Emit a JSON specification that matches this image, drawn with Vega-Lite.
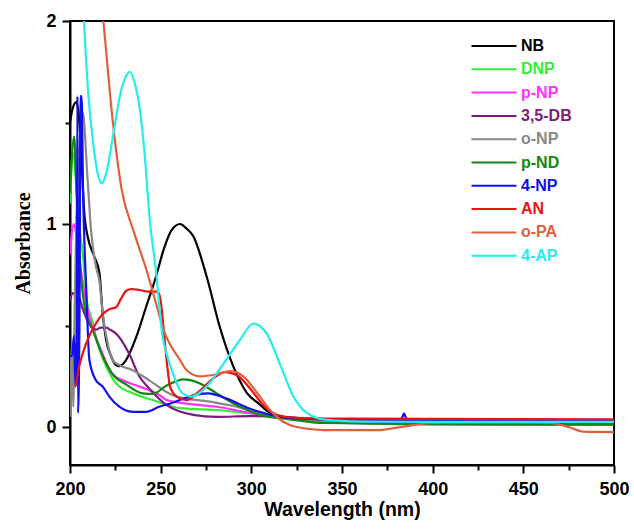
{
  "$schema": "https://vega.github.io/schema/vega-lite/v6.json",
  "width": 544,
  "height": 444,
  "autosize": {"type": "none"},
  "padding": {"left": 70, "top": 21, "right": 20, "bottom": 64},
  "background": "white",
  "config": {
    "view": {"stroke": "black", "strokeWidth": 2},
    "axis": {
      "domainColor": "black", "domainWidth": 2,
      "labelFont": "Liberation Sans", "labelFontWeight": "bold", "labelFontSize": 18, "labelColor": "black",
      "titleColor": "black", "grid": false
    }
  },
  "data": {"values": [
    {"s":"NB","w":200,"a":1.50},{"s":"NB","w":201.5,"a":1.57},{"s":"NB","w":203.5,"a":1.60},{"s":"NB","w":205,"a":1.52},{"s":"NB","w":206,"a":1.38},{"s":"NB","w":207.9,"a":1.05},{"s":"NB","w":209.7,"a":0.94},{"s":"NB","w":213.4,"a":0.84},{"s":"NB","w":216.2,"a":0.76},{"s":"NB","w":218,"a":0.56},{"s":"NB","w":219.9,"a":0.43},{"s":"NB","w":222.6,"a":0.35},{"s":"NB","w":225.4,"a":0.305},{"s":"NB","w":227.2,"a":0.30},{"s":"NB","w":230.9,"a":0.33},{"s":"NB","w":236.4,"a":0.44},{"s":"NB","w":241.9,"a":0.59},{"s":"NB","w":247.4,"a":0.74},{"s":"NB","w":251.5,"a":0.87},{"s":"NB","w":256,"a":0.97},{"s":"NB","w":260.7,"a":1.00},{"s":"NB","w":264,"a":0.98},{"s":"NB","w":268,"a":0.94},{"s":"NB","w":275.4,"a":0.74},{"s":"NB","w":282.7,"a":0.49},{"s":"NB","w":290,"a":0.30},{"s":"NB","w":297.4,"a":0.17},{"s":"NB","w":304.8,"a":0.11},{"s":"NB","w":308.5,"a":0.08},{"s":"NB","w":315,"a":0.055},{"s":"NB","w":325,"a":0.04},{"s":"NB","w":350,"a":0.035},{"s":"NB","w":400,"a":0.033},{"s":"NB","w":450,"a":0.032},{"s":"NB","w":500,"a":0.03},

    {"s":"DNP","w":200,"a":1.10},{"s":"DNP","w":201.5,"a":1.35},{"s":"DNP","w":203,"a":1.25},{"s":"DNP","w":205,"a":1.00},{"s":"DNP","w":207.2,"a":0.84},{"s":"DNP","w":209,"a":0.64},{"s":"DNP","w":212.7,"a":0.51},{"s":"DNP","w":214.3,"a":0.445},{"s":"DNP","w":219.9,"a":0.30},{"s":"DNP","w":225.4,"a":0.215},{"s":"DNP","w":234.6,"a":0.166},{"s":"DNP","w":245.6,"a":0.133},{"s":"DNP","w":256.6,"a":0.10},{"s":"DNP","w":262.5,"a":0.092},{"s":"DNP","w":280.9,"a":0.084},{"s":"DNP","w":299.3,"a":0.067},{"s":"DNP","w":321.3,"a":0.048},{"s":"DNP","w":340,"a":0.03},{"s":"DNP","w":400,"a":0.022},{"s":"DNP","w":500,"a":0.02},

    {"s":"p-NP","w":200,"a":0.85},{"s":"p-NP","w":202,"a":1.00},{"s":"p-NP","w":203.5,"a":0.95},{"s":"p-NP","w":206.2,"a":0.76},{"s":"p-NP","w":209,"a":0.61},{"s":"p-NP","w":212.7,"a":0.48},{"s":"p-NP","w":216.2,"a":0.40},{"s":"p-NP","w":223.5,"a":0.26},{"s":"p-NP","w":229,"a":0.23},{"s":"p-NP","w":238.2,"a":0.20},{"s":"p-NP","w":249.2,"a":0.158},{"s":"p-NP","w":253.3,"a":0.133},{"s":"p-NP","w":271.7,"a":0.108},{"s":"p-NP","w":280.9,"a":0.10},{"s":"p-NP","w":295.6,"a":0.075},{"s":"p-NP","w":317.6,"a":0.048},{"s":"p-NP","w":340,"a":0.03},{"s":"p-NP","w":400,"a":0.025},{"s":"p-NP","w":500,"a":0.022},

    {"s":"3,5-DB","w":200,"a":0.62},{"s":"3,5-DB","w":201.5,"a":0.66},{"s":"3,5-DB","w":203,"a":0.65},{"s":"3,5-DB","w":204,"a":0.68},{"s":"3,5-DB","w":205.1,"a":0.64},{"s":"3,5-DB","w":208.8,"a":0.54},{"s":"3,5-DB","w":212,"a":0.49},{"s":"3,5-DB","w":214.3,"a":0.48},{"s":"3,5-DB","w":217,"a":0.49},{"s":"3,5-DB","w":219.9,"a":0.49},{"s":"3,5-DB","w":222,"a":0.48},{"s":"3,5-DB","w":225.4,"a":0.46},{"s":"3,5-DB","w":232.7,"a":0.36},{"s":"3,5-DB","w":238.2,"a":0.25},{"s":"3,5-DB","w":243.7,"a":0.19},{"s":"3,5-DB","w":253,"a":0.11},{"s":"3,5-DB","w":268,"a":0.06},{"s":"3,5-DB","w":280.9,"a":0.05},{"s":"3,5-DB","w":299.3,"a":0.054},{"s":"3,5-DB","w":321.3,"a":0.048},{"s":"3,5-DB","w":340,"a":0.03},{"s":"3,5-DB","w":400,"a":0.02},{"s":"3,5-DB","w":500,"a":0.018},

    {"s":"o-NP","w":200,"a":0.05},{"s":"o-NP","w":201,"a":0.40},{"s":"o-NP","w":201.8,"a":0.10},{"s":"o-NP","w":202.6,"a":0.60},{"s":"o-NP","w":203.5,"a":1.00},{"s":"o-NP","w":205,"a":1.35},{"s":"o-NP","w":207,"a":1.55},{"s":"o-NP","w":209.7,"a":1.22},{"s":"o-NP","w":211.6,"a":0.97},{"s":"o-NP","w":214.3,"a":0.79},{"s":"o-NP","w":216.2,"a":0.72},{"s":"o-NP","w":218,"a":0.56},{"s":"o-NP","w":220.8,"a":0.41},{"s":"o-NP","w":223.5,"a":0.33},{"s":"o-NP","w":227.2,"a":0.305},{"s":"o-NP","w":234.6,"a":0.28},{"s":"o-NP","w":243.7,"a":0.23},{"s":"o-NP","w":253,"a":0.174},{"s":"o-NP","w":258.8,"a":0.15},{"s":"o-NP","w":277.2,"a":0.125},{"s":"o-NP","w":291.9,"a":0.10},{"s":"o-NP","w":308.5,"a":0.06},{"s":"o-NP","w":325,"a":0.038},{"s":"o-NP","w":350,"a":0.02},{"s":"o-NP","w":400,"a":0.012},{"s":"o-NP","w":500,"a":0.01},

    {"s":"p-ND","w":200,"a":1.15},{"s":"p-ND","w":202.3,"a":1.43},{"s":"p-ND","w":203.5,"a":1.17},{"s":"p-ND","w":205.3,"a":0.84},{"s":"p-ND","w":208.1,"a":0.59},{"s":"p-ND","w":212.5,"a":0.48},{"s":"p-ND","w":218,"a":0.35},{"s":"p-ND","w":223.5,"a":0.26},{"s":"p-ND","w":230.9,"a":0.21},{"s":"p-ND","w":240.1,"a":0.166},{"s":"p-ND","w":245.6,"a":0.163},{"s":"p-ND","w":253.3,"a":0.205},{"s":"p-ND","w":258.5,"a":0.225},{"s":"p-ND","w":262.5,"a":0.235},{"s":"p-ND","w":267,"a":0.23},{"s":"p-ND","w":271.7,"a":0.215},{"s":"p-ND","w":280.9,"a":0.166},{"s":"p-ND","w":291.9,"a":0.108},{"s":"p-ND","w":304.8,"a":0.06},{"s":"p-ND","w":321.3,"a":0.038},{"s":"p-ND","w":340,"a":0.02},{"s":"p-ND","w":400,"a":0.015},{"s":"p-ND","w":500,"a":0.012},

    {"s":"4-NP","w":200,"a":0.35},{"s":"4-NP","w":201.1,"a":0.35},{"s":"4-NP","w":202.2,"a":0.45},{"s":"4-NP","w":203,"a":0.20},{"s":"4-NP","w":203.7,"a":0.50},{"s":"4-NP","w":204.1,"a":1.63},{"s":"4-NP","w":204.4,"a":0.07},{"s":"4-NP","w":205.2,"a":0.50},{"s":"4-NP","w":205.8,"a":1.63},{"s":"4-NP","w":206.4,"a":1.63},{"s":"4-NP","w":207.2,"a":1.17},{"s":"4-NP","w":209,"a":0.67},{"s":"4-NP","w":210.7,"a":0.33},{"s":"4-NP","w":214.3,"a":0.23},{"s":"4-NP","w":218,"a":0.20},{"s":"4-NP","w":221.7,"a":0.15},{"s":"4-NP","w":227.2,"a":0.10},{"s":"4-NP","w":234.6,"a":0.075},{"s":"4-NP","w":241.9,"a":0.075},{"s":"4-NP","w":249.2,"a":0.10},{"s":"4-NP","w":256.6,"a":0.12},{"s":"4-NP","w":262.5,"a":0.14},{"s":"4-NP","w":270,"a":0.16},{"s":"4-NP","w":276.3,"a":0.166},{"s":"4-NP","w":286.4,"a":0.14},{"s":"4-NP","w":299.3,"a":0.09},{"s":"4-NP","w":314,"a":0.054},{"s":"4-NP","w":325,"a":0.043},{"s":"4-NP","w":350,"a":0.038},{"s":"4-NP","w":382,"a":0.036},{"s":"4-NP","w":383.3,"a":0.05},{"s":"4-NP","w":384.2,"a":0.068},{"s":"4-NP","w":385,"a":0.05},{"s":"4-NP","w":386.3,"a":0.036},{"s":"4-NP","w":420,"a":0.035},{"s":"4-NP","w":500,"a":0.033},

    {"s":"AN","w":203,"a":0.20},{"s":"AN","w":205.1,"a":0.30},{"s":"AN","w":208.8,"a":0.41},{"s":"AN","w":214.3,"a":0.51},{"s":"AN","w":218,"a":0.555},{"s":"AN","w":221.7,"a":0.58},{"s":"AN","w":225.4,"a":0.59},{"s":"AN","w":228,"a":0.63},{"s":"AN","w":230.9,"a":0.67},{"s":"AN","w":234,"a":0.68},{"s":"AN","w":238.2,"a":0.675},{"s":"AN","w":243.7,"a":0.667},{"s":"AN","w":248.4,"a":0.667},{"s":"AN","w":250.2,"a":0.61},{"s":"AN","w":252,"a":0.445},{"s":"AN","w":253.9,"a":0.28},{"s":"AN","w":255.1,"a":0.20},{"s":"AN","w":258.8,"a":0.15},{"s":"AN","w":264.3,"a":0.133},{"s":"AN","w":271.7,"a":0.18},{"s":"AN","w":279,"a":0.24},{"s":"AN","w":285.5,"a":0.27},{"s":"AN","w":291.9,"a":0.256},{"s":"AN","w":299.3,"a":0.19},{"s":"AN","w":306.6,"a":0.108},{"s":"AN","w":314,"a":0.06},{"s":"AN","w":321.3,"a":0.048},{"s":"AN","w":340,"a":0.042},{"s":"AN","w":400,"a":0.04},{"s":"AN","w":500,"a":0.038},

    {"s":"o-PA","w":210,"a":2.8},{"s":"o-PA","w":214,"a":2.4},{"s":"o-PA","w":218.4,"a":2.0},{"s":"o-PA","w":223.9,"a":1.48},{"s":"o-PA","w":228.5,"a":1.17},{"s":"o-PA","w":234.9,"a":0.97},{"s":"o-PA","w":242.3,"a":0.77},{"s":"o-PA","w":249.6,"a":0.54},{"s":"o-PA","w":251.5,"a":0.48},{"s":"o-PA","w":255,"a":0.41},{"s":"o-PA","w":260.7,"a":0.33},{"s":"o-PA","w":264.3,"a":0.28},{"s":"o-PA","w":271.7,"a":0.25},{"s":"o-PA","w":280.9,"a":0.26},{"s":"o-PA","w":288.2,"a":0.275},{"s":"o-PA","w":295.6,"a":0.25},{"s":"o-PA","w":303,"a":0.17},{"s":"o-PA","w":310.3,"a":0.084},{"s":"o-PA","w":317.6,"a":0.026},{"s":"o-PA","w":325,"a":0.0},{"s":"o-PA","w":340,"a":-0.015},{"s":"o-PA","w":370,"a":-0.015},{"s":"o-PA","w":382,"a":0.0},{"s":"o-PA","w":400,"a":0.02},{"s":"o-PA","w":420,"a":0.022},{"s":"o-PA","w":464.7,"a":0.02},{"s":"o-PA","w":475,"a":0.0},{"s":"o-PA","w":483,"a":-0.023},{"s":"o-PA","w":500,"a":-0.025},

    {"s":"4-AP","w":203,"a":3.2},{"s":"4-AP","w":205.5,"a":2.4},{"s":"4-AP","w":207.7,"a":2.0},{"s":"4-AP","w":210,"a":1.65},{"s":"4-AP","w":213,"a":1.38},{"s":"4-AP","w":215.5,"a":1.24},{"s":"4-AP","w":217.5,"a":1.20},{"s":"4-AP","w":220,"a":1.25},{"s":"4-AP","w":224,"a":1.45},{"s":"4-AP","w":228,"a":1.65},{"s":"4-AP","w":231,"a":1.73},{"s":"4-AP","w":233.1,"a":1.75},{"s":"4-AP","w":235.5,"a":1.70},{"s":"4-AP","w":238.6,"a":1.56},{"s":"4-AP","w":241,"a":1.36},{"s":"4-AP","w":244,"a":1.02},{"s":"4-AP","w":247.4,"a":0.77},{"s":"4-AP","w":251,"a":0.45},{"s":"4-AP","w":254,"a":0.34},{"s":"4-AP","w":257,"a":0.26},{"s":"4-AP","w":260.7,"a":0.18},{"s":"4-AP","w":264,"a":0.155},{"s":"4-AP","w":267.1,"a":0.15},{"s":"4-AP","w":275.4,"a":0.20},{"s":"4-AP","w":284.5,"a":0.31},{"s":"4-AP","w":293.8,"a":0.43},{"s":"4-AP","w":301.1,"a":0.51},{"s":"4-AP","w":308.5,"a":0.46},{"s":"4-AP","w":315.8,"a":0.31},{"s":"4-AP","w":323.2,"a":0.15},{"s":"4-AP","w":330.5,"a":0.07},{"s":"4-AP","w":341.6,"a":0.035},{"s":"4-AP","w":360,"a":0.027},{"s":"4-AP","w":400,"a":0.025},{"s":"4-AP","w":500,"a":0.025}
  ]},
  "mark": {"type": "line", "strokeWidth": 2.2, "clip": true, "interpolate": "monotone"},
  "encoding": {
    "x": {
      "field": "w", "type": "quantitative",
      "scale": {"domain": [200, 500], "nice": false, "zero": false},
      "axis": {
        "values": [200,225,250,275,300,325,350,375,400,425,450,475,500],
        "labelExpr": "datum.value % 50 === 0 ? format(datum.value, 'd') : ''",
        "ticks": true, "tickWidth": 2, "tickColor": "#000000",
        "tickSize": {"condition": {"test": "datum.value % 50 === 0", "value": 8}, "value": 5},
        "title": "Wavelength (nm)", "titleFont": "Liberation Sans", "titleFontWeight": "bold", "titleFontSize": 19.5,
        "labelPadding": 7, "titlePadding": 2, "labelFlush": false, "labelOverlap": false
      }
    },
    "y": {
      "field": "a", "type": "quantitative",
      "scale": {"domain": [-0.187, 2], "nice": false, "zero": false},
      "axis": {
        "values": [0, 0.5, 1, 1.5, 2],
        "labelExpr": "datum.value % 1 === 0 ? format(datum.value, 'd') : ''",
        "ticks": true, "tickWidth": 2, "tickColor": "#000000",
        "tickSize": {"condition": {"test": "datum.value % 1 === 0", "value": 8}, "value": 5},
        "title": "Absorbance", "titleFont": "Liberation Serif", "titleFontWeight": "bold", "titleFontSize": 20,
        "labelPadding": 6, "titlePadding": 12, "labelFlush": false, "labelOverlap": false
      }
    },
    "color": {
      "field": "s", "type": "nominal",
      "scale": {
        "domain": ["NB","DNP","p-NP","3,5-DB","o-NP","p-ND","4-NP","AN","o-PA","4-AP"],
        "range": ["#000000","#33ee33","#ff33ff","#7f1a7f","#888888","#118811","#1010ee","#ee1111","#e0603a","#22eeee"]
      },
      "legend": {
        "title": null, "orient": "none", "legendX": 414, "legendY": 15,
        "symbolType": "M-2.5,0H2.5", "symbolSize": 324, "symbolStrokeWidth": 2,
        "labelFont": "Liberation Sans", "labelFontWeight": "bold", "labelFontSize": 16,
        "labelOffset": 17, "rowPadding": 5.3,
        "encode": {"labels": {"update": {"fill": {"scale": "color", "field": "value"}}}}
      }
    }
  }
}
